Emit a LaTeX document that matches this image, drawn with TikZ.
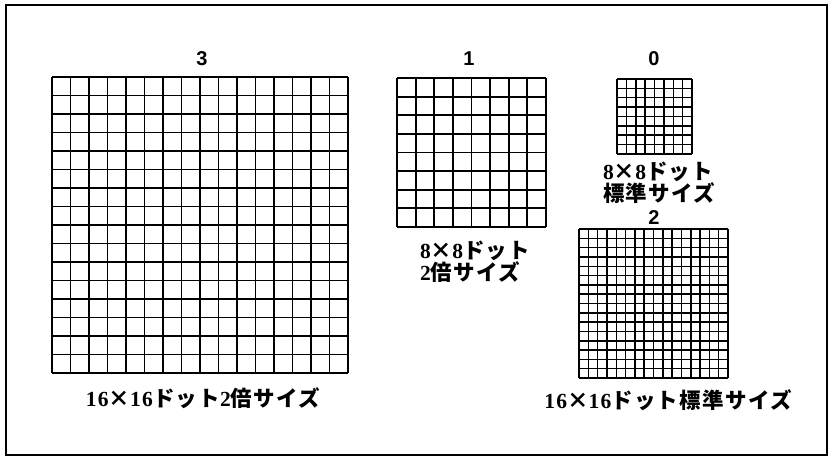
\documentclass[tikz,border=0pt]{standalone}
\usepackage{fontspec}
\newfontfamily\jp[LetterSpace=6]{Noto Sans CJK JP}
\newfontfamily\lat[LetterSpace=6]{Liberation Serif}
\newfontfamily\num{Liberation Sans}
\newcommand\lt[1]{{\lat\bfseries #1}}
\newcommand\dotgrid[5]{% x0, y0, size, n, linewidth
  \foreach \i in {0,...,#4}{%
    \draw[line width=#5] ({#1+\i*#3/#4},#2) -- ({#1+\i*#3/#4},{#2+#3});
    \draw[line width=#5] (#1,{#2+\i*#3/#4}) -- ({#1+#3},{#2+\i*#3/#4});
  }}
\tikzset{
  numlabel/.style={font=\num\bfseries\fontsize{20}{20}\selectfont, inner sep=0pt},
  jplabel/.style={font=\jp\bfseries\fontsize{21.5}{21}\selectfont, inner sep=0pt}
}
\begin{document}
\begin{tikzpicture}[x=1pt,y=-1pt]
\useasboundingbox (0,0) rectangle (832,457);
\draw[line width=2pt] (6,5) rectangle (827,455);
% grid 3: 16x16 double
\dotgrid{52}{77}{296}{16}{1.8pt}
% grid 1: 8x8 double
\dotgrid{397}{78}{149}{8}{1.9pt}
% grid 0: 8x8 standard
\dotgrid{617}{79}{75}{8}{1.5pt}
% grid 2: 16x16 standard
\dotgrid{579}{229}{149}{16}{1.5pt}
\node[numlabel] (n3) at (202,59) {3};
\node[numlabel] (n1) at (469,59) {1};
\node[numlabel] (n0) at (654,59) {0};
\node[numlabel] (n2) at (654,218) {2};
\node[jplabel] (t3) at (203,398) {\lt{16}×\lt{16}ドット\lt{2}倍サイズ};
\node[jplabel, align=left, anchor=north west] (t1) at (420,241) {\lt{8}×\lt{8}ドット\\\lt{2}倍サイズ};
\node[jplabel, align=left, anchor=north west] (t0) at (603,162) {\lt{8}×\lt{8}ドット\\標準サイズ};
\node[jplabel] (t2) at (668,400) {\lt{16}×\lt{16}ドット標準サイズ};
\end{tikzpicture}
\end{document}
